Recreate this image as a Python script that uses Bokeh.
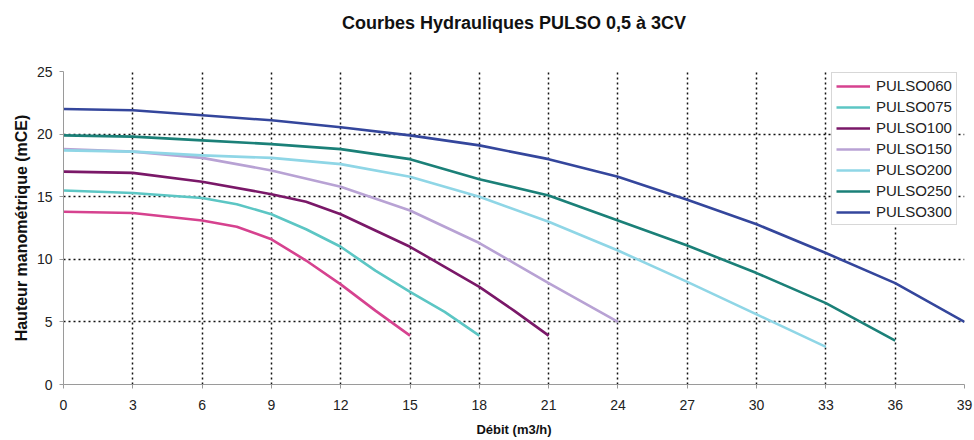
from bokeh.plotting import figure
from bokeh.embed import file_html
from bokeh.resources import INLINE
from bokeh.models import Legend, LegendItem, FixedTicker, Range1d, Title

# ---- data ----
names = ["PULSO060", "PULSO075", "PULSO100", "PULSO150", "PULSO200", "PULSO250", "PULSO300"]
colors = ["#d6428f", "#5cc6c4", "#7a1868", "#b8a2d4", "#8fd6e6", "#1b8078", "#34469c"]

x060 = [0, 3, 6, 7.5, 9, 10.5, 12, 13.5, 15]
y060 = [13.8, 13.7, 13.1, 12.6, 11.6, 9.9, 8.0, 5.9, 3.9]

x075 = [0, 3, 6, 7.5, 9, 10.5, 12, 13.5, 15, 16.5, 18]
y075 = [15.5, 15.3, 14.9, 14.4, 13.6, 12.4, 11.0, 9.1, 7.4, 5.8, 3.9]

x100 = [0, 3, 6, 9, 10.5, 12, 13.5, 15, 16.5, 18, 19.5, 21]
y100 = [17.0, 16.9, 16.2, 15.2, 14.6, 13.6, 12.3, 11.0, 9.4, 7.8, 5.9, 3.9]

x150 = [0, 3, 6, 9, 12, 15, 16.5, 18, 19.5, 21, 24]
y150 = [18.8, 18.6, 18.1, 17.1, 15.8, 13.9, 12.6, 11.3, 9.7, 8.1, 5.0]

x200 = [0, 3, 6, 9, 12, 15, 18, 21, 24, 27, 30, 33]
y200 = [18.7, 18.6, 18.3, 18.1, 17.6, 16.6, 15.0, 13.0, 10.7, 8.2, 5.6, 3.0]

x250 = [0, 3, 6, 9, 12, 15, 18, 21, 24, 27, 30, 33, 34.5, 36]
y250 = [19.9, 19.8, 19.5, 19.2, 18.8, 18.0, 16.4, 15.1, 13.1, 11.1, 8.9, 6.5, 5.0, 3.5]

x300 = [0, 3, 6, 9, 12, 15, 18, 21, 24, 27, 30, 33, 36, 39]
y300 = [22.0, 21.9, 21.5, 21.1, 20.55, 19.9, 19.1, 18.0, 16.6, 14.75, 12.8, 10.5, 8.1, 5.0]

series_x = [x060, x075, x100, x150, x200, x250, x300]
series_y = [y060, y075, y100, y150, y200, y250, y300]

x_ticks = list(range(0, 40, 3))
y_ticks = [0, 5, 10, 15, 20, 25]

title_text = "Courbes Hydrauliques PULSO 0,5 à 3CV"
x_label = "Débit (m3/h)"
y_label = "Hauteur manométrique (mCE)"

FONT = "Liberation Sans"

p = figure(width=974, height=440, output_backend="svg", toolbar_location=None,
           x_range=Range1d(0, 39), y_range=Range1d(0, 25),
           min_border_left=63, min_border_right=10, min_border_bottom=56, min_border_top=71)

p.title.text = ""
spacer_top = Title(text=" ", text_font_size="1px", standoff=27)
p.add_layout(spacer_top, "above")
main_title = Title(text=title_text, align="center", text_font=FONT, text_font_size="18px",
                   text_font_style="bold", text_color="#111111", standoff=18)
p.add_layout(main_title, "above")

p.outline_line_color = None
p.background_fill_color = "white"
p.border_fill_color = "white"

for ax in (p.xaxis[0], p.yaxis[0]):
    ax.axis_line_color = "#9a9a9a"
    ax.major_tick_line_color = "#9a9a9a"
    ax.major_tick_out = 4
    ax.major_tick_in = 0
    ax.minor_tick_line_color = None
    ax.major_label_text_font = FONT
    ax.major_label_text_font_size = "14px"
    ax.major_label_text_color = "#222222"
    ax.axis_label_text_font = FONT
    ax.axis_label_text_font_style = "bold"
    ax.axis_label_text_color = "#111111"

p.xaxis[0].axis_label_text_font_size = "13px"
p.yaxis[0].axis_label_text_font_size = "16px"
p.xaxis[0].ticker = FixedTicker(ticks=x_ticks)
p.yaxis[0].ticker = FixedTicker(ticks=y_ticks)
p.xaxis[0].axis_label = x_label
p.yaxis[0].axis_label = y_label
p.xaxis[0].major_label_standoff = 11
p.yaxis[0].major_label_standoff = 7
p.xaxis[0].axis_label_standoff = 9
p.yaxis[0].axis_label_standoff = 4

spacer_left = Title(text=" ", text_font_size="1px", standoff=6)
p.add_layout(spacer_left, "left")

for g in (p.xgrid[0], p.ygrid[0]):
    g.grid_line_color = "#111111"
    g.grid_line_dash = "2 3"
    g.grid_line_width = 1.5
p.xgrid[0].ticker = FixedTicker(ticks=x_ticks[1:])
p.ygrid[0].ticker = FixedTicker(ticks=y_ticks[1:])

items = []
for name, col, xs, ys in zip(names, colors, series_x, series_y):
    r = p.line(xs, ys, line_color=col, line_width=2.6, line_join="round")
    items.append(LegendItem(label=name, renderers=[r]))

legend = Legend(items=items, location=(768, 159))
legend.label_text_font = FONT
legend.label_text_font_size = "15px"
legend.label_text_color = "#222222"
legend.glyph_width = 34
legend.glyph_height = 16
legend.label_height = 16
legend.spacing = 4
legend.padding = 4
legend.margin = 0
legend.label_standoff = 6
legend.border_line_color = "#b0b0b0"
legend.border_line_width = 1
legend.background_fill_color = "white"
legend.background_fill_alpha = 1.0
p.add_layout(legend)

open("out.html", "w").write(file_html(p, INLINE))
